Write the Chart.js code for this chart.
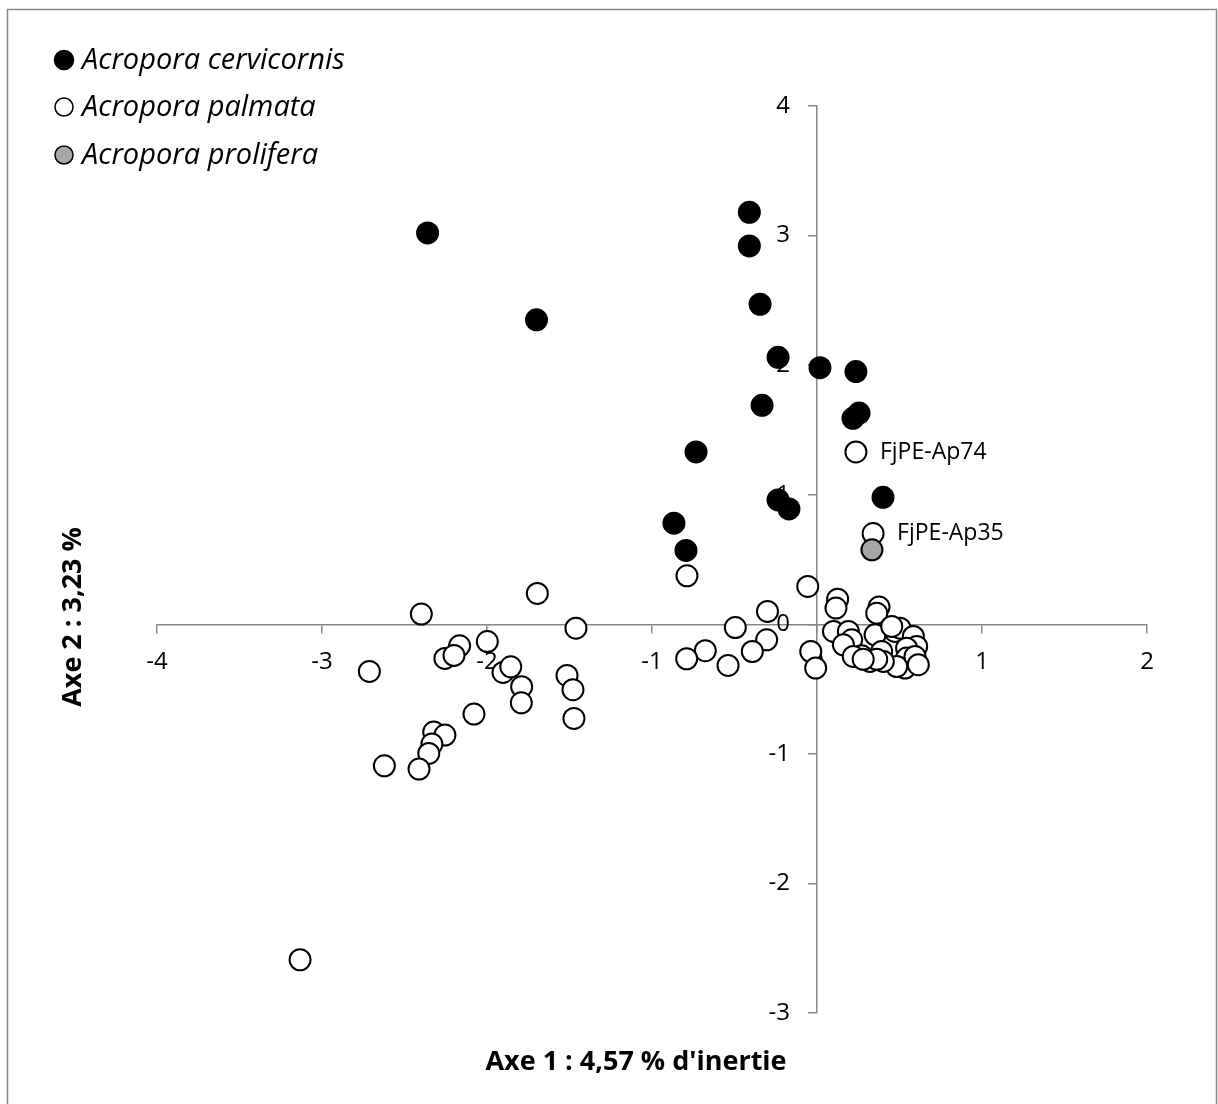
<!DOCTYPE html>
<html><head><meta charset="utf-8">
<script src="https://cdn.jsdelivr.net/npm/chart.js@4/dist/chart.umd.min.js"></script>
<style>html,body{margin:0;padding:0;background:#fff}#wrap{width:1218px;height:1104px;position:relative}</style>
</head><body><div id="wrap"><canvas id="c" width="1218" height="1104"></canvas></div>
<script>
const seriesNames = ['Acropora cervicornis', 'Acropora palmata', 'Acropora prolifera'];
const cervicornis = [[-2.36,3.02],[-1.70,2.35],[-0.41,3.18],[-0.41,2.92],[-0.345,2.47],[-0.236,2.06],[-0.333,1.69],[0.018,1.98],[0.236,1.95],[0.255,1.63],[0.218,1.59],[-0.733,1.33],[-0.236,0.96],[-0.17,0.89],[0.40,0.98],[-0.867,0.78],[-0.794,0.57]];
const palmata = [[0.236,1.33],[0.34,0.70],
 [-2.398,0.079],[-1.695,0.238],[-1.461,-0.03],[-2.713,-0.364],[-2.166,-0.166],[-2.255,-0.264],[-2.2,-0.24],[-1.998,-0.133],[-1.903,-0.372],[-1.856,-0.328],[-1.79,-0.482],[-1.792,-0.606],[-1.515,-0.395],[-1.479,-0.505],[-1.473,-0.727],[-2.079,-0.693],[-2.323,-0.832],[-2.255,-0.855],[-2.334,-0.924],[-2.353,-0.997],[-2.622,-1.092],[-2.412,-1.117],[-3.133,-2.589],
 [-0.788,0.374],[-0.056,0.292],[-0.30,0.099],[-0.495,-0.025],[-0.305,-0.12],[-0.392,-0.21],[-0.677,-0.204],[-0.79,-0.266],[-0.539,-0.318],[-0.038,-0.21],[-0.008,-0.338],
 [0.125,0.194],[0.115,0.125],[0.376,0.133],[0.362,0.086],[0.133,-0.076],[0.10,-0.055],[0.19,-0.055],[0.21,-0.12],[0.16,-0.158],[0.271,-0.243],[0.22,-0.248],[0.352,-0.081],[0.392,-0.21],[0.321,-0.287],[0.473,-0.055],[0.503,-0.03],[0.453,-0.017],[0.584,-0.094],[0.604,-0.171],[0.543,-0.184],[0.543,-0.261],[0.533,-0.338],[0.483,-0.326],[0.402,-0.287],[0.594,-0.248],[0.614,-0.312],[0.362,-0.27],[0.28,-0.27]];
const prolifera = [[0.333,0.575]];
const palmataLabels = ['FjPE-Ap74', 'FjPE-Ap35'];
const xTicks = [-4, -3, -2, -1, 0, 1, 2];
const yTicks = [-3, -2, -1, 0, 1, 2, 3, 4];
const xTitle = "Axe 1 : 4,57 % d'inertie";
const yTitle = 'Axe 2 : 3,23 %';

const FONT = '"Open Sans", Lato, sans-serif';
const fills = ['#000000', '#ffffff', '#a6a6a6'];
const AXIS = '#868686';
const toPts = a => a.map(p => ({x: p[0], y: p[1]}));

const decor = {
  id: 'decor',
  afterDraw(chart) {
    const ctx = chart.ctx;
    ctx.save();
    ctx.strokeStyle = AXIS; ctx.lineWidth = 1.5;
    ctx.strokeRect(7.5, 9.5, 1209, 1110);
    const rows = [60, 107, 155];
    seriesNames.forEach((n, i) => {
      ctx.beginPath();
      ctx.arc(64, rows[i], i === 0 ? 9.5 : 9, 0, Math.PI * 2);
      ctx.fillStyle = fills[i]; ctx.fill();
      ctx.lineWidth = 1.5; ctx.strokeStyle = '#000'; ctx.stroke();
      ctx.fillStyle = '#000';
      ctx.font = 'italic 29px ' + FONT;
      ctx.textAlign = 'left'; ctx.textBaseline = 'middle';
      ctx.fillText(n, 82, rows[i] + 1);
    });
    const meta = chart.getDatasetMeta(1);
    ctx.font = '23px ' + FONT;
    ctx.textBaseline = 'middle';
    palmataLabels.forEach((t, i) => {
      const el = meta.data[i];
      ctx.fillText(t, el.x + 24, el.y);
    });
    ctx.font = 'bold 27px ' + FONT;
    ctx.textAlign = 'center';
    ctx.fillText(xTitle, 636, 1062);
    ctx.translate(73, 617); ctx.rotate(-Math.PI / 2);
    ctx.fillText(yTitle, 0, 0);
    ctx.restore();
  }
};

function shiftYLabels(scale) {
  if (scale._shifted) return;
  scale._shifted = true;
  const orig = scale._computeLabelItems;
  scale._computeLabelItems = function (area) {
    const items = orig.call(this, area);
    const off = this.options.grid.tickLength + this.options.ticks.padding;
    items.forEach(it => { it.options.translation[0] -= off; });
    return items;
  };
}

const chart = new Chart(document.getElementById('c'), {
  type: 'scatter',
  data: {
    datasets: [
      {label: seriesNames[0], data: toPts(cervicornis), backgroundColor: fills[0], borderColor: '#000', order: 1},
      {label: seriesNames[1], data: toPts(palmata), backgroundColor: fills[1], borderColor: '#000', order: 2},
      {label: seriesNames[2], data: toPts(prolifera), backgroundColor: fills[2], borderColor: '#000', order: 0}
    ]
  },
  options: {
    responsive: false, animation: false, devicePixelRatio: 1,
    elements: {point: {radius: 10.5, borderWidth: 2, hoverRadius: 10.5}},
    layout: {padding: {left: 157, right: 71, top: 106, bottom: 91}},
    plugins: {legend: {display: false}, tooltip: {enabled: false}},
    scales: {
      x: {
        type: 'linear', min: -4, max: 2, position: {y: 0},
        afterFit: s => { s.height = 0; },
        afterBuildTicks: s => { s.ticks = xTicks.map(v => ({value: v})); },
        grid: {drawOnChartArea: false, color: AXIS, tickLength: 8, lineWidth: 1.5},
        border: {color: AXIS, width: 1.5},
        ticks: {color: '#000', font: {family: FONT, size: 24}, padding: 15, maxRotation: 0, callback: v => String(v)}
      },
      y: {
        type: 'linear', min: -3, max: 4, position: {x: 0},
        afterFit: s => { s.width = 0; },
        afterUpdate: shiftYLabels,
        afterBuildTicks: s => { s.ticks = yTicks.map(v => ({value: v})); },
        grid: {drawOnChartArea: false, color: AXIS, tickLength: 8, lineWidth: 1.5},
        border: {color: AXIS, width: 1.5},
        ticks: {color: '#000', font: {family: FONT, size: 24}, padding: 19, callback: v => String(v)}
      }
    }
  },
  plugins: [decor]
});
</script></body></html>
